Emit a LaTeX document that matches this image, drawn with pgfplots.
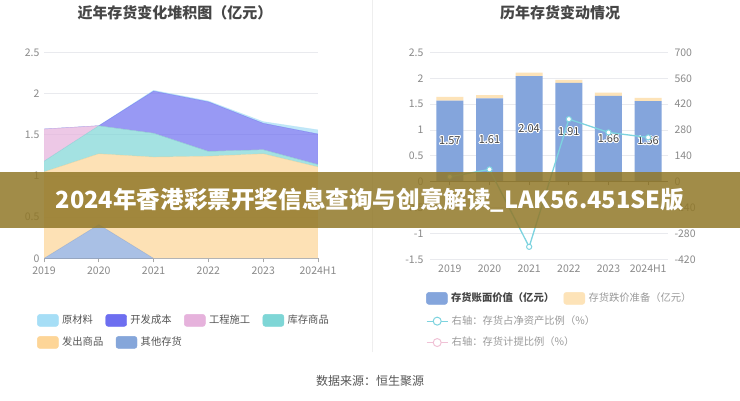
\documentclass[border=0pt]{standalone}
\usepackage{pgfplots}
\pgfplotsset{compat=1.18}
\usepackage{fontspec}
\setmainfont{Noto Sans CJK SC}
\usepackage{contour}
\contourlength{0.9pt}
\definecolor{sep}{HTML}{EEEEEE}
\definecolor{gridc}{HTML}{E9EAEE}
\definecolor{tickc}{HTML}{8A8A8A}
\definecolor{titlec}{HTML}{464646}
\definecolor{legc}{HTML}{555555}
\definecolor{leggrey}{HTML}{9A9A9A}
\definecolor{axl}{HTML}{A8A8A8}
\definecolor{axr}{HTML}{7A7A7A}
\definecolor{cYCL}{HTML}{A6DEF6}
\definecolor{cKF}{HTML}{6D6EF0}
\definecolor{cGC}{HTML}{E6B2DC}
\definecolor{cKC}{HTML}{7ED6D6}
\definecolor{cFC}{HTML}{FDD597}
\definecolor{cQT}{HTML}{85A6DA}
\definecolor{barblue}{HTML}{84A5DC}
\definecolor{baryel}{HTML}{FDE3B8}
\definecolor{lteal}{HTML}{7DD3DF}
\definecolor{lpink}{HTML}{F0C2D6}
\definecolor{banner}{RGB}{145,120,40}
\pgfplotsset{
  swatch/.style={legend image code/.code={\fill[#1, rounded corners=2.5pt] (0pt,-6pt) rectangle (21pt,6pt);}},
  lineimg/.style={legend image code/.code={\path (0pt,-6pt) (21pt,6pt);\draw[#1, line width=1pt] (0pt,0pt) -- (21pt,0pt);\draw[#1, line width=1pt, fill=white] (10.5pt,0pt) circle (4pt);}},
  mylegend/.style={draw=none, fill=none, inner sep=0pt, font=\fontsize{10.3}{12}\selectfont, text=legc,
    /tikz/every even column/.append style={column sep=9pt},
    nodes={inner xsep=3.5pt, inner ysep=0pt, text height=8.5pt, text depth=2pt}, row sep=9pt},
  ticklab/.style={tick label style={font=\fontsize{10.5}{12}\selectfont, text=tickc}}
}
\begin{document}
\begin{tikzpicture}
\fill[white] (0pt,0pt) rectangle (740pt,400pt);
\draw[sep, line width=0.8pt] (372pt,48pt) -- (372pt,400pt);
\node[font=\bfseries\fontsize{15}{15}\selectfont, text=titlec] at (175pt,388pt) {近年存货变化堆积图（亿元）};
\node[font=\bfseries\fontsize{15}{15}\selectfont, text=titlec] at (560pt,388pt) {历年存货变动情况};
\node[font=\fontsize{12}{12}\selectfont, text=legc] at (370pt,19pt) {数据来源：恒生聚源};

% ---------- left stacked area chart ----------
\begin{axis}[
  at={(44pt,142pt)}, anchor=south west, scale only axis, width=274pt, height=206pt,
  xmin=0, xmax=5, ymin=0, ymax=2.5,
  stack plots=y,
  axis x line*=bottom, axis y line*=left,
  x axis line style={draw=axl, line width=0.8pt},
  y axis line style={draw=none},
  xtick={0,...,5}, xticklabels={2019,2020,2021,2022,2023,2024H1},
  ytick={0,0.5,1,1.5,2,2.5}, yticklabels={0,0.5,1,1.5,2,2.5},
  ymajorgrids, grid style={draw=gridc, line width=0.8pt},
  ticklab,
  xtick align=outside,
  x tick style={draw=axl, line width=0.8pt, /pgfplots/major tick length=4pt},
  y tick style={/pgfplots/major tick length=0pt, draw=none},
  xticklabel style={yshift=-1pt},
  yticklabel style={xshift=-1pt},
  legend cell align=left,
  legend style={mylegend, at={(axis description cs:-0.0255,-0.301)}, anchor=west, legend columns=4},
]
\addplot[fill=cQT, fill opacity=0.7, draw=cQT, draw opacity=0.5, forget plot] coordinates {(0,0) (1,0.41) (2,0) (3,0) (4,0) (5,0)} \closedcycle;
\addplot[fill=cFC, fill opacity=0.7, draw=cFC, draw opacity=0.5, forget plot] coordinates {(0,1.05) (1,0.86) (2,1.23) (3,1.24) (4,1.27) (5,1.11)} \closedcycle;
\addplot[fill=cKC, fill opacity=0.7, draw=cKC, draw opacity=0.5, forget plot] coordinates {(0,0.13) (1,0.34) (2,0.29) (3,0.06) (4,0.05) (5,0.03)} \closedcycle;
\addplot[fill=cGC, fill opacity=0.7, draw=cGC, draw opacity=0.5, forget plot] coordinates {(0,0.39) (1,0) (2,0) (3,0) (4,0) (5,0)} \closedcycle;
\addplot[fill=cKF, fill opacity=0.7, draw=cKF, draw opacity=0.5, forget plot] coordinates {(0,0) (1,0) (2,0.51) (3,0.60) (4,0.32) (5,0.37)} \closedcycle;
\addplot[fill=cYCL, fill opacity=0.7, draw=cYCL, draw opacity=0.5, forget plot] coordinates {(0,0) (1,0) (2,0.01) (3,0.01) (4,0.02) (5,0.05)} \closedcycle;
\addlegendimage{swatch=cYCL}\addlegendentry{原材料}
\addlegendimage{swatch=cKF}\addlegendentry{开发成本}
\addlegendimage{swatch=cGC}\addlegendentry{工程施工}
\addlegendimage{swatch=cKC}\addlegendentry{库存商品}
\end{axis}
\begin{axis}[
  at={(44pt,142pt)}, anchor=south west, scale only axis, width=274pt, height=206pt,
  xmin=0, xmax=5, ymin=0, ymax=2.5, hide axis,
  legend cell align=left,
  legend style={mylegend, at={(axis description cs:-0.0255,-0.408)}, anchor=west, legend columns=2},
]
\addlegendimage{swatch=cFC}\addlegendentry{发出商品}
\addlegendimage{swatch=cQT}\addlegendentry{其他存货}
\end{axis}

% ---------- right bar chart ----------
\begin{axis}[
  at={(430pt,141pt)}, anchor=south west, scale only axis, width=238pt, height=207pt,
  xmin=-0.5, xmax=5.5, ymin=-1.5, ymax=2.5,
  ybar stacked, bar width=27pt,
  axis x line*=bottom, axis y line*=left,
  x axis line style={draw=none}, y axis line style={draw=none},
  xtick={0,...,5}, xticklabels={2019,2020,2021,2022,2023,2024H1},
  ytick={-1.5,-1,-0.5,0,0.5,1,1.5,2,2.5}, yticklabels={-1.5,-1,-0.5,0,0.5,1,1.5,2,2.5},
  ymajorgrids, grid style={draw=gridc, line width=0.8pt},
  ticklab,
  x tick style={/pgfplots/major tick length=0pt, draw=none},
  y tick style={/pgfplots/major tick length=0pt, draw=none},
  xticklabel style={yshift=-2pt},
  yticklabel style={xshift=-3pt},
  legend cell align=left,
  legend style={mylegend, at={(axis description cs:-0.0168,-0.1884)}, anchor=west, legend columns=2, /tikz/every even column/.append style={column sep=6pt}},
]
\addplot[fill=barblue, draw=none, forget plot] coordinates {(0,1.57) (1,1.61) (2,2.04) (3,1.91) (4,1.66) (5,1.56)};
\addplot[fill=baryel, draw=none, forget plot] coordinates {(0,0.07) (1,0.065) (2,0.07) (3,0.06) (4,0.065) (5,0.06)};
\addlegendimage{swatch=barblue}\addlegendentry{\textcolor{titlec}{\bfseries 存货账面价值（亿元）}}
\addlegendimage{swatch=baryel}\addlegendentry{\textcolor{leggrey}{存货跌价准备（亿元）}}
\end{axis}
% zero axis line with ticks
\begin{axis}[
  at={(430pt,219pt)}, anchor=south west, scale only axis, width=238pt, height=10pt,
  xmin=-0.5, xmax=5.5, ymin=0, ymax=1,
  axis x line*=bottom, axis y line=none,
  x axis line style={draw=axr, line width=0.8pt},
  xtick={0,...,5}, xticklabels={}, xtick align=outside,
  x tick style={draw=axr, line width=0.8pt, /pgfplots/major tick length=4pt},
]
\end{axis}
% bar value labels
\begin{axis}[
  at={(430pt,141pt)}, anchor=south west, scale only axis, width=238pt, height=207pt,
  xmin=-0.5, xmax=5.5, ymin=-1.5, ymax=2.5, hide axis, clip=false,
]
\addplot[only marks, mark=none, nodes near coords={\contour{white}{\pgfplotspointmeta}}, point meta=explicit symbolic,
  nodes near coords style={anchor=center, font=\fontsize{11}{12}\selectfont, text=titlec}]
  table[meta=lab] {
x y lab
0 0.785 1.57
1 0.805 1.61
2 1.02 2.04
3 0.955 1.91
4 0.83 1.66
5 0.78 1.56
};
\end{axis}
% secondary axis
\begin{axis}[
  at={(430pt,141pt)}, anchor=south west, scale only axis, width=238pt, height=207pt,
  xmin=-0.5, xmax=5.5, ymin=-420, ymax=700,
  axis y line*=right, axis x line=none,
  y axis line style={draw=none},
  ytick={-420,-280,-140,0,140,280,420,560,700}, yticklabels={-420,-280,-140,0,140,280,420,560,700},
  ticklab,
  y tick style={/pgfplots/major tick length=0pt, draw=none},
  yticklabel style={xshift=3pt},
  legend cell align=left,
  legend style={mylegend, at={(axis description cs:-0.0168,-0.350)}, anchor=west, legend columns=1},
]
\addplot[lteal, line width=1.3pt, mark=*, mark size=2.6pt, mark options={fill=white, draw=lteal, line width=1pt}, forget plot]
  coordinates {(0,27) (1,67) (2,-352) (3,339) (4,267) (5,240)};
\addlegendimage{lineimg=lteal}\addlegendentry{\textcolor{leggrey}{右轴：存货占净资产比例（\%）}}
\addlegendimage{lineimg=lpink}\addlegendentry{\textcolor{leggrey}{右轴：存货计提比例（\%）}}
\end{axis}

% overlay banner
\fill[banner, opacity=0.85] (0pt,172pt) rectangle (740pt,228pt);
\node[text=white, font=\bfseries\fontsize{23.6}{24}\selectfont] at (370pt,200pt) {2024年香港彩票开奖信息查询与创意解读\_LAK56.451SE版};
\end{tikzpicture}
\end{document}
